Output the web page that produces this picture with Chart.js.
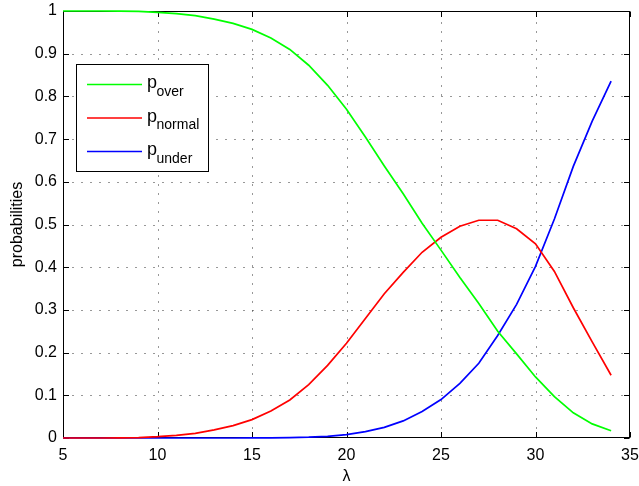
<!DOCTYPE html>
<html>
<head>
<meta charset="utf-8">
<script src="https://cdn.jsdelivr.net/npm/chart.js@4.4.1/dist/chart.umd.min.js"></script>
<style>
  html, body { margin: 0; padding: 0; background: #fff; }
  #wrap { width: 639px; height: 486px; }
</style>
</head>
<body>
<div id="wrap"><canvas id="chartProb" width="639" height="486"></canvas></div>
<script>
// lambda values and the three outcome probabilities
const lambdas = [5, 6, 7, 8, 9, 10, 11, 12, 13, 14, 15, 16, 17, 18, 19, 20, 21, 22, 23, 24, 25, 26, 27, 28, 29, 30, 31, 32, 33, 34];
const pOver = [1.0, 1.0, 1.0, 0.9998, 0.999, 0.997, 0.994, 0.989, 0.981, 0.971, 0.957, 0.937, 0.910, 0.873, 0.826, 0.770, 0.705, 0.637, 0.572, 0.503, 0.440, 0.376, 0.315, 0.250, 0.197, 0.143, 0.097, 0.059, 0.033, 0.017];
const pNormal = [0.0, 0.0, 0.0, 0.0002, 0.001, 0.003, 0.006, 0.011, 0.019, 0.029, 0.043, 0.063, 0.089, 0.125, 0.170, 0.222, 0.280, 0.338, 0.388, 0.435, 0.470, 0.496, 0.510, 0.510, 0.490, 0.455, 0.390, 0.305, 0.225, 0.147];
const pUnder = [0.0, 0.0, 0.0, 0.0, 0.0, 0.0, 0.0, 0.0, 0.0, 0.0, 0.0003, 0.0005, 0.001, 0.002, 0.004, 0.008, 0.015, 0.025, 0.040, 0.062, 0.090, 0.128, 0.175, 0.240, 0.313, 0.402, 0.513, 0.636, 0.742, 0.836];

const seriesNames = ['over', 'normal', 'under'];
const seriesColors = ['#00ff00', '#ff0000', '#0000ff'];
const xTicks = [5, 10, 15, 20, 25, 30, 35];
const yTicks = [0, 0.1, 0.2, 0.3, 0.4, 0.5, 0.6, 0.7, 0.8, 0.9, 1];
const yTickLabels = ['0', '0.1', '0.2', '0.3', '0.4', '0.5', '0.6', '0.7', '0.8', '0.9', '1'];

const FONT = '"Liberation Sans", Arial, Helvetica, sans-serif';

function toPoints(values) {
    return lambdas.map((l, i) => ({ x: l, y: values[i] }));
}

// axes box, dotted grid and inward ticks in the old matlab look
const matlabAxes = {
    id: 'matlabAxes',
    beforeDatasetsDraw(chart) {
        const { ctx, chartArea: a, scales: { x, y } } = chart;
        const L = a.left + 0.5, R = a.right - 0.5, T = a.top + 0.5, B = a.bottom - 0.5;
        ctx.save();
        ctx.lineWidth = 1;

        // grid
        ctx.strokeStyle = '#303030';
        ctx.setLineDash([1, 8]);
        xTicks.slice(1, -1).forEach(v => {
            const px = Math.round(x.getPixelForValue(v)) + 0.5;
            ctx.beginPath(); ctx.moveTo(px, B); ctx.lineTo(px, T); ctx.stroke();
        });
        yTicks.slice(1, -1).forEach(v => {
            const py = Math.round(y.getPixelForValue(v)) + 0.5;
            ctx.beginPath(); ctx.moveTo(L, py); ctx.lineTo(R, py); ctx.stroke();
        });
        ctx.setLineDash([]);

        // box
        ctx.strokeStyle = '#000';
        ctx.strokeRect(L, T, R - L, B - T);

        // ticks on all four sides
        const tl = 5.5;
        ctx.beginPath();
        xTicks.forEach(v => {
            const px = Math.round(x.getPixelForValue(v)) + 0.5;
            ctx.moveTo(px, B); ctx.lineTo(px, B - tl);
            ctx.moveTo(px, T); ctx.lineTo(px, T + tl);
        });
        yTicks.forEach(v => {
            const py = Math.round(y.getPixelForValue(v)) + 0.5;
            ctx.moveTo(L, py); ctx.lineTo(L + tl, py);
            ctx.moveTo(R, py); ctx.lineTo(R - tl, py);
        });
        ctx.stroke();
        ctx.restore();
    },
    afterDraw(chart) {
        const { ctx, chartArea: a, scales: { x, y } } = chart;
        ctx.save();
        ctx.fillStyle = '#000';
        ctx.font = '16px ' + FONT;

        // tick labels
        ctx.textAlign = 'center';
        ctx.textBaseline = 'alphabetic';
        xTicks.forEach(v => {
            ctx.fillText(String(v), x.getPixelForValue(v), a.bottom + 22);
        });
        ctx.textAlign = 'right';
        ctx.textBaseline = 'middle';
        yTicks.forEach((v, i) => {
            ctx.fillText(yTickLabels[i], a.left - 6, y.getPixelForValue(v));
        });

        // axis titles
        ctx.textAlign = 'center';
        ctx.textBaseline = 'alphabetic';
        ctx.fillText('\u03bb', (a.left + a.right) / 2, a.bottom + 43);
        ctx.save();
        ctx.translate(22, (a.top + a.bottom) / 2);
        ctx.rotate(-Math.PI / 2);
        ctx.fillText('probabilities', 0, 0);
        ctx.restore();

        // legend with subscripted labels
        const bx = a.left + 13, by = a.top + 53, bw = 132, bh = 107;
        ctx.fillStyle = '#fff';
        ctx.fillRect(bx, by, bw, bh);
        ctx.strokeStyle = '#000';
        ctx.lineWidth = 1;
        ctx.strokeRect(bx + 0.5, by + 0.5, bw, bh);

        chart.data.datasets.forEach((ds, i) => {
            const rowY = by + 20.5 + i * 33.5;
            ctx.strokeStyle = ds.borderColor;
            ctx.lineWidth = 1.6;
            ctx.beginPath();
            ctx.moveTo(bx + 11, rowY);
            ctx.lineTo(bx + 66, rowY);
            ctx.stroke();

            ctx.fillStyle = '#000';
            ctx.textAlign = 'left';
            ctx.textBaseline = 'alphabetic';
            ctx.font = '18px ' + FONT;
            const px = bx + 71;
            ctx.fillText('p', px, rowY + 3.5);
            const pw = ctx.measureText('p').width;
            ctx.font = '14px ' + FONT;
            ctx.fillText(seriesNames[i], px + pw - 0.5, rowY + 11);
        });
        ctx.restore();
    }
};

const datasets = [pOver, pNormal, pUnder].map((vals, i) => ({
    label: 'p_' + seriesNames[i],
    data: toPoints(vals),
    borderColor: seriesColors[i],
    backgroundColor: seriesColors[i],
    borderWidth: 1.7,
    pointRadius: 0,
    showLine: true,
    tension: 0,
    fill: false,
    clip: false
}));

new Chart(document.getElementById('chartProb').getContext('2d'), {
    type: 'scatter',
    data: { datasets: datasets },
    options: {
        responsive: false,
        animation: false,
        devicePixelRatio: 1,
        layout: { padding: { left: 63, right: 9, top: 11, bottom: 48 } },
        plugins: { legend: { display: false }, tooltip: { enabled: false } },
        scales: {
            x: { type: 'linear', min: 5, max: 35, display: false },
            y: { type: 'linear', min: 0, max: 1, display: false }
        }
    },
    plugins: [matlabAxes]
});
</script>
</body>
</html>
